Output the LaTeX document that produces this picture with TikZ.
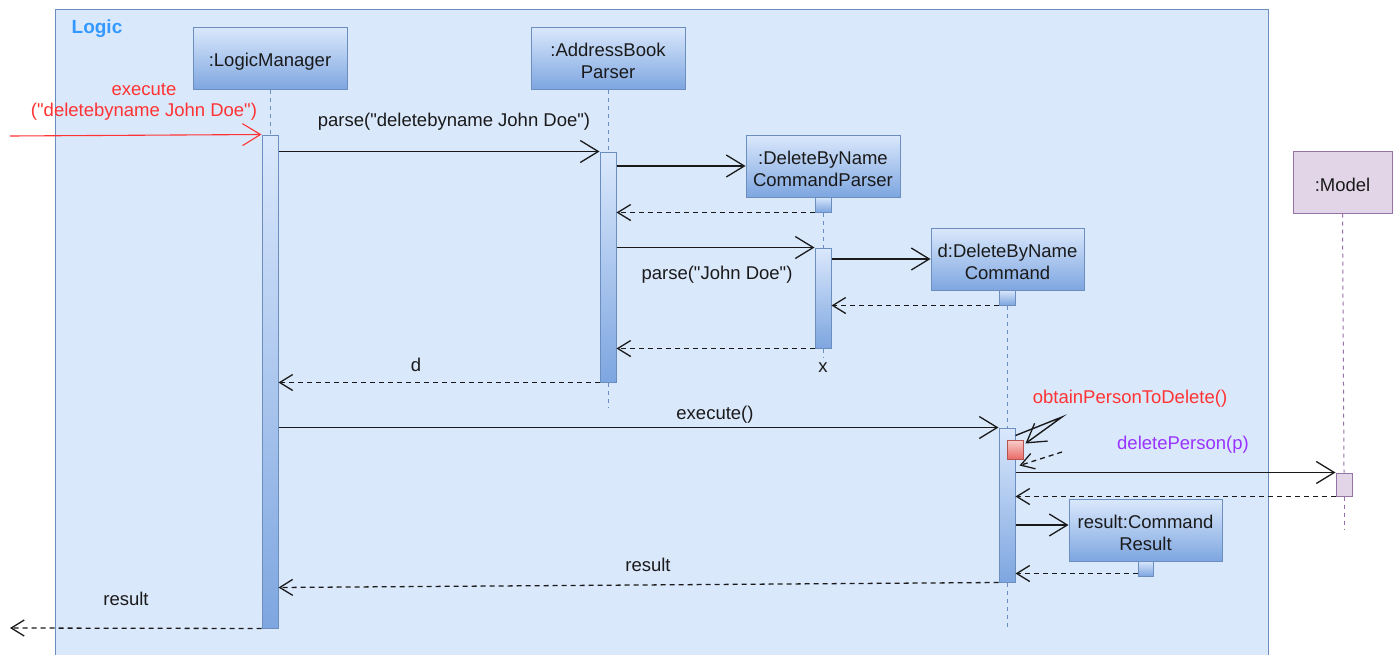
\documentclass[tikz,border=0pt]{standalone}
\usepackage{fontspec}
\setmainfont{Liberation Sans}[Ligatures=TeXOff]
\usetikzlibrary{arrows.meta,calc}
\definecolor{frameFill}{HTML}{DAE8FC}
\definecolor{frameLine}{HTML}{6C8EBF}
\definecolor{gradBot}{HTML}{7EA6E0}
\definecolor{redFill}{HTML}{F8CECC}
\definecolor{redBot}{HTML}{EA6B66}
\definecolor{redLine}{HTML}{B85450}
\definecolor{purFill}{HTML}{E1D5E7}
\definecolor{purLine}{HTML}{9673A6}
\definecolor{msgRed}{HTML}{FF3333}
\definecolor{msgPur}{HTML}{9933FF}
\definecolor{logicBlue}{HTML}{3399FF}
\definecolor{txt}{HTML}{1A1A1A}
\tikzset{
  head/.style={draw=frameLine, line width=1pt, top color=frameFill, bottom color=gradBot,
    minimum width=154pt, minimum height=62pt, inner sep=0pt},
  htext/.style={align=center, inner sep=0pt, yshift=-3pt,
    font=\fontsize{18.5}{22}\selectfont, text=txt},
  act/.style={draw=frameLine, line width=1pt, top color=frameFill, bottom color=gradBot,
    minimum width=16pt, inner sep=0pt},
  life/.style={draw=frameLine, line width=1pt, dash pattern=on 4pt off 4pt},
  msg/.style={draw=txt, line width=1.4pt, -{Straight Barb[length=18pt,width=22pt,line width=1.3pt]}},
  ret/.style={draw=txt, line width=1.3pt, dash pattern=on 5pt off 4pt, -{Straight Barb[length=13pt,width=16pt,line width=1.3pt]}},
  lbl/.style={font=\fontsize{18.5}{21}\selectfont, text=txt, align=center, inner sep=0pt}
}
\begin{document}
\begin{tikzpicture}[x=1pt,y=-1pt]
\useasboundingbox (0,0) rectangle (1398,654);
\fill[white] (0,0) rectangle (1398,654);
% frame
\node[draw=frameLine, fill=frameFill, line width=1pt, minimum width=1213pt, minimum height=660pt, inner sep=0pt, anchor=north west] (frame) at (55,9) {};
\node[font=\bfseries\fontsize{19}{22}\selectfont, text=logicBlue, inner sep=0pt] (logic) at (97,29) {Logic};
% heads
\node[head, label={[htext]center:{:LogicManager}}] (LM) at (270,58.5) {};
\node[head, label={[htext]center:{:AddressBook\\Parser}}] (AP) at (608,58) {};
\node[head, label={[htext]center:{:DeleteByName\\CommandParser}}] (DP) at (823,166) {};
\node[head, minimum width=153pt, label={[htext]center:{d:DeleteByName\\Command}}] (DC) at (1007.5,259) {};
\node[head, minimum width=153pt, label={[htext]center:{result:Command\\Result}}] (CR) at (1145.5,530) {};
\node[head, minimum width=99pt, draw=purLine, top color=purFill, bottom color=purFill, label={[htext]center:{:Model}}] (MO) at (1342.5,182) {};
% activations
\node[act, minimum height=493pt] (aLM) at (270,381.5) {};
\node[act, minimum height=230pt] (aAP) at (608,267) {};
\node[act, minimum height=15pt] (aDP1) at (823,204.5) {};
\node[act, minimum height=100pt] (aDP2) at (823,298) {};
\node[act, minimum height=15pt] (aDC1) at (1007,297.5) {};
\node[act, minimum height=154pt] (aDC2) at (1007,505) {};
\node[act, minimum width=15pt, minimum height=15pt] (aCR) at (1145.5,568.5) {};
\node[act, minimum height=23pt, draw=purLine, top color=purFill, bottom color=purFill] (aM) at (1344,484.5) {};
\node[draw=redLine, line width=1pt, top color=redFill, bottom color=redBot, minimum width=16pt, minimum height=19pt, inner sep=0pt] (rs) at (1015,449.5) {};
% lifelines
\coordinate (apEnd) at (608,408);
\coordinate (dpEnd) at (823,358);
\coordinate (dcEnd) at (1007,628);
\coordinate (moEnd) at (1344,530);
\draw[life] (LM.south) -- (aLM.north);
\draw[life] (AP.south) -- (aAP.north);
\draw[life] (aAP.south) -- (apEnd);
\draw[life] (aDP1.south) -- (aDP2.north);
\draw[life] (aDP2.south) -- (dpEnd);
\draw[life] (aDC1.south) -- (aDC2.north);
\draw[life] (aDC2.south) -- (dcEnd);
\draw[life, draw=purLine] (MO.south) -- (aM.north);
\draw[life, draw=purLine] (aM.south) -- (moEnd);
\node[lbl] (xmark) at (823,368) {x};
% incoming
\coordinate (inL) at (10,136);
\draw[line width=1.1pt, draw=msgRed, -{Straight Barb[length=18pt,width=22pt,line width=1.1pt]}] (inL) -- (aLM.north west);
\node[lbl, text=msgRed] (lexec) at (144,102) {execute\\("deletebyname John Doe")};
% messages
\draw[msg] (aLM.east |- aAP.north) -- (aAP.north west);
\node[lbl] (lparse) at (454,122) {parse("deletebyname John Doe")};
\draw[msg] (aAP.east |- DP.west) -- (DP.west);
\draw[ret] (aDP1.south west) -- (aAP.east |- aDP1.south);
\draw[msg] (aAP.east |- aDP2.north) -- (aDP2.north west);
\node[lbl] (lparse2) at (717,275) {parse("John Doe")};
\draw[msg] (aDP2.east |- DC.west) -- (DC.west);
\draw[ret] (aDC1.south west) -- (aDP2.east |- aDC1.south);
\draw[ret] (aDP2.south west) -- (aAP.east |- aDP2.south);
\draw[ret] (aAP.south west) -- (aLM.east |- aAP.south);
\node[lbl] (ld) at (416,365) {d};
\draw[msg] (aLM.east |- aDC2.north) -- (aDC2.north west);
\node[lbl] (lexe2) at (715,415) {execute()};
% self call
\coordinate (sc) at (1062,417);
\coordinate (sr) at (1062,452);
\draw[msg] ($(aDC2.north east)+(0,8)$) -- (sc) -- ($(rs.north east)+(2,4)$);
\draw[ret] (sr) -- ($(rs.south east)+(-4,6)$);
\node[lbl, text=msgRed] (lobt) at (1130,399) {obtainPersonToDelete()};
% model
\draw[msg] (aDC2.east |- aM.north) -- (aM.north west);
\node[lbl, text=msgPur] (ldel) at (1183,445) {deletePerson(p)};
\draw[ret] (aM.south west) -- (aDC2.east |- aM.south);
% result
\draw[msg] ($(aDC2.east |- CR.west)+(0,-5)$) -- ($(CR.west)+(0,-5)$);
\draw[ret] ($(aCR.south west)+(0,-3)$) -- ($(aDC2.east |- aCR.south)+(0,-3)$);
\draw[ret] (aDC2.south west) -- ($(aLM.east |- aDC2.south)+(0,5)$);
\node[lbl] (lres) at (648,565) {result};
\coordinate (outL) at (10,628);
\draw[ret] (aLM.south west) -- (outL);
\node[lbl] (lres2) at (126,599) {result};
\end{tikzpicture}
\end{document}
